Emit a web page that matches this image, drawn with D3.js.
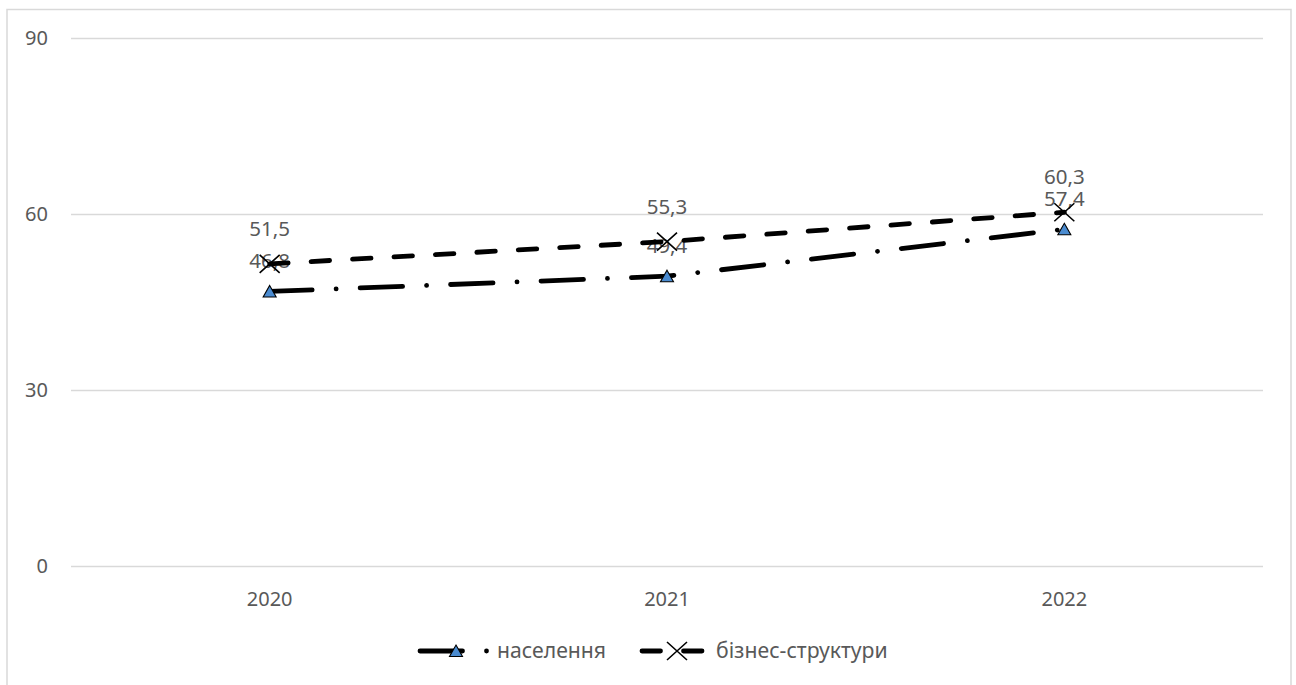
<!DOCTYPE html>
<html>
<head>
<meta charset="utf-8">
<script src="https://cdn.jsdelivr.net/npm/d3@7"></script>
<style>
html,body{margin:0;padding:0;background:#fff;}
svg{display:block;}
text{font-family:"Noto Sans",sans-serif;fill:#595959;}
</style>
</head>
<body>
<svg id="chart" width="1296" height="685"></svg>
<script>
const categories = ["2020", "2021", "2022"];
const seriesNames = ["населення", "бізнес-структури"];
const naselennia = [46.8, 49.4, 57.4];
const biznes = [51.5, 55.3, 60.3];
const yTicks = [0, 30, 60, 90];

const svg = d3.select("#chart");
const W = 1296, H = 685;
const plot = {left: 71, right: 1263, top: 38, bottom: 566};

svg.append("rect").attr("x",0).attr("y",0).attr("width",W).attr("height",H).attr("fill","#fff");
svg.append("rect").attr("x",7).attr("y",9.5).attr("width",1284).attr("height",720)
  .attr("fill","none").attr("stroke","#d9d9d9").attr("stroke-width",1.5);

const x = d3.scaleBand().domain(categories).range([plot.left, plot.right]).padding(0);
const y = d3.scaleLinear().domain([0, 90]).range([plot.bottom, plot.top]);
const cx = d => x(d) + x.bandwidth()/2;

// gridlines
const yAxis = d3.axisLeft(y).tickValues(yTicks).tickSize(-(plot.right-plot.left)).tickPadding(23).tickFormat(d3.format("d"));
const gy = svg.append("g").attr("transform",`translate(${plot.left},0)`).call(yAxis);
gy.select(".domain").remove();
gy.selectAll(".tick line").attr("stroke","#d9d9d9").attr("stroke-width",1.5);
gy.selectAll(".tick text").attr("font-size",20).attr("fill","#595959").style("font-family","Noto Sans");

const xAxis = d3.axisBottom(x).tickSize(0).tickPadding(26);
const gx = svg.append("g").attr("transform",`translate(0,${plot.bottom})`).call(xAxis);
gx.select(".domain").remove();
gx.selectAll(".tick text").attr("font-size",20).attr("fill","#595959").style("font-family","Noto Sans");

const series = [
  {name: seriesNames[0], values: naselennia, dash: "42.5,24,0.01,24", marker: "tri", labelOff: 23.5},
  {name: seriesNames[1], values: biznes, dash: "18.5,23", marker: "x", labelOff: 28}
];

const fmt = v => String(v).replace(".", ",");

// data labels
series.forEach(s => {
  svg.append("g").selectAll("text").data(s.values).join("text")
    .attr("x",(d,i)=>cx(categories[i]))
    .attr("y",d=>y(d)-s.labelOff)
    .attr("text-anchor","middle")
    .attr("font-size",20.5)
    .text(d=>fmt(d));
});

const line = d3.line().x((d,i)=>cx(categories[i])).y(d=>y(d));

function drawMarker(g, type, px, py){
  if(type==="tri"){
    g.append("path").attr("d",`M${px},${py-6}L${px+6.5},${py+5.5}L${px-6.5},${py+5.5}Z`)
      .attr("fill","#4a8bd0").attr("stroke","#000").attr("stroke-width",1.1);
  } else {
    g.append("path").attr("d",`M${px-10},${py-9}L${px+10},${py+9}M${px-10},${py+9}L${px+10},${py-9}`)
      .attr("stroke","#000").attr("stroke-width",1.6).attr("fill","none");
  }
}

series.forEach(s => {
  svg.append("path").datum(s.values).attr("d",line)
    .attr("fill","none").attr("stroke","#000").attr("stroke-width",4.8)
    .attr("stroke-linecap","round").attr("stroke-dasharray",s.dash);
});
series.forEach(s => {
  const g = svg.append("g");
  s.values.forEach((v,i)=>drawMarker(g, s.marker, cx(categories[i]), y(v)));
});

// legend
const legendY = 651;
const legendItems = [
  {s: series[0], x0: 420, x1: 490, mx: 456, tx: 497},
  {s: series[1], x0: 642, x1: 706, mx: 677, tx: 716}
];
legendItems.forEach(it => {
  const g = svg.append("g");
  g.append("line").attr("x1",it.x0).attr("x2",it.x1).attr("y1",legendY).attr("y2",legendY)
    .attr("stroke","#000").attr("stroke-width",4.8).attr("stroke-linecap","round")
    .attr("stroke-dasharray",it.s.dash);
  drawMarker(g, it.s.marker, it.mx, legendY);
  g.append("text").attr("x",it.tx).attr("y",legendY).attr("dy","0.35em")
    .attr("font-size",21.2).text(it.s.name);
});
</script>
</body>
</html>
